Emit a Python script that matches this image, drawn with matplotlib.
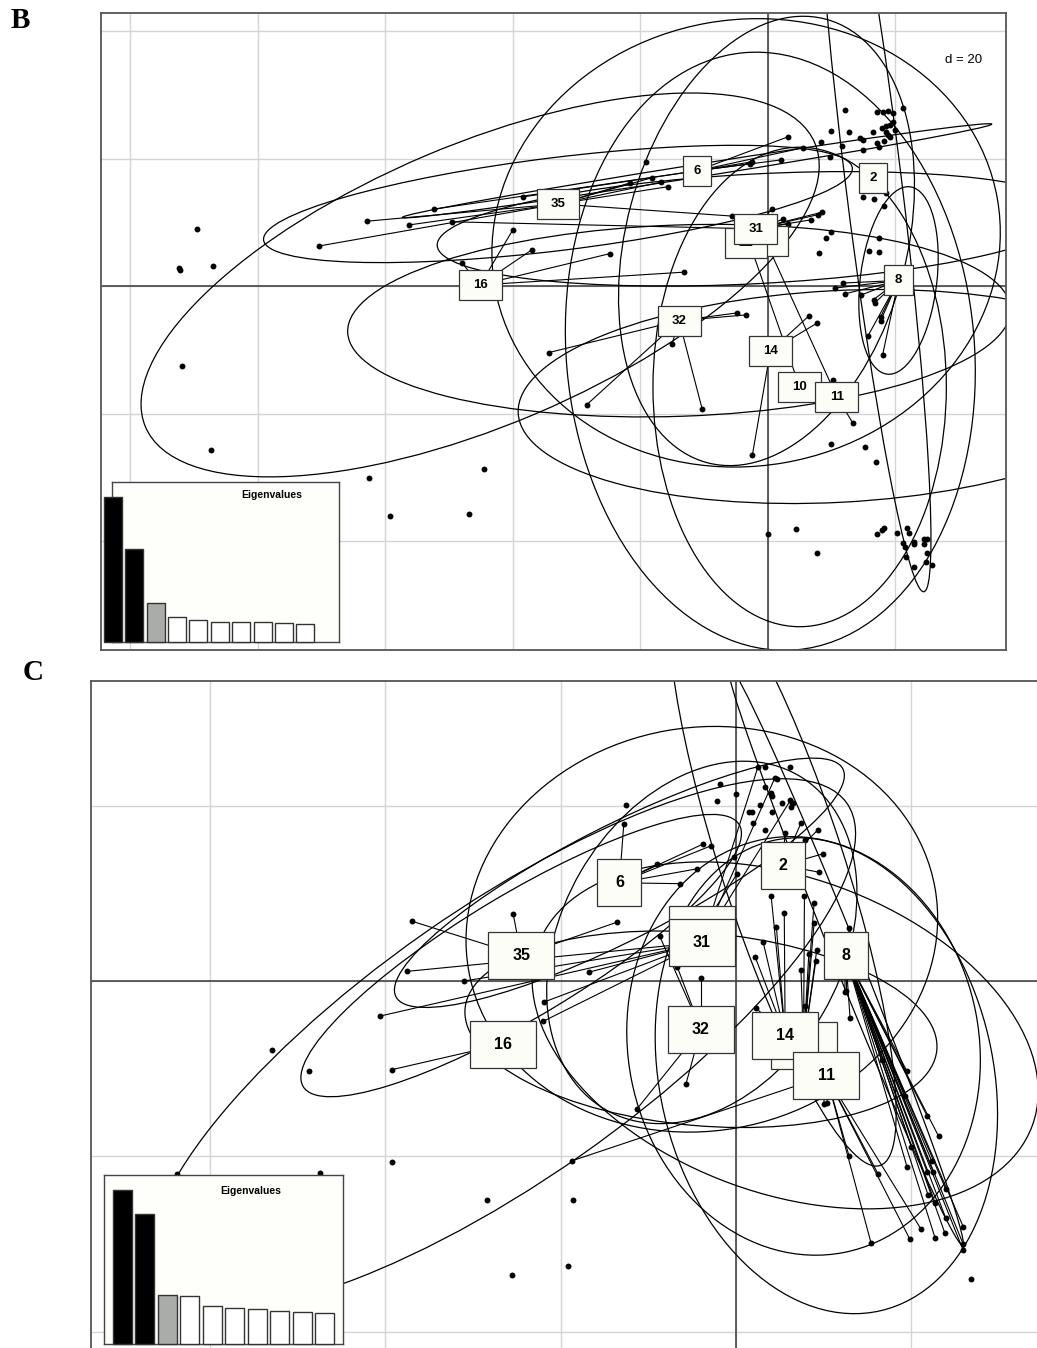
import matplotlib.pyplot as plt
from matplotlib.patches import Ellipse, Rectangle

# ---------------- panel B data (units of the d = 20 grid) ----------------
b_labels = ["2", "6", "35", "16", "25", "22", "31", "8", "32", "14", "10", "11"]
b_cx = [16.5, -11.1, -32.9, -45.1, -0.2, -3.4, -1.9, 20.5, -13.9, 0.4, 5.0, 10.8]
b_cy = [17.0, 18.1, 12.9, 0.2, 7.1, 6.8, 9.0, 0.9, -5.4, -10.2, -15.8, -17.3]
# ellipse semi axes and angle for each class
b_ea = [65.4, 46.8, 46.5, 57.0, 36.0, 40.0, 50.0, 14.8, 52.0, 47.0, 37.6, 50.0]
b_eb = [4.4, 1.0, 7.3, 22.0, 22.0, 35.0, 8.6, 6.0, 15.0, 32.0, 23.0, 16.6]
b_ang = [97, 9, 7, 23, 75, 10, 3, 83, 2, 95, 90, 3]

b_px = [-89.5, -92.3, -92.1, -87.0, -70.4, -62.8, -56.3, -52.3, -49.5, -48.0,
        -40.0, -91.8, -87.3, -62.5, -59.2, -46.9, -44.5, 12.1, 17.2, 18.0,
        18.8, 19.6, 21.2, 19.6, 17.9, 18.6, 19.1, 19.9, 18.6, 18.8,
        19.1, 16.5, 9.9, 12.7, 14.4, 14.9, 17.2, 18.2, 17.4, 14.9,
        11.6, 8.3, 3.1, 5.5, 9.7, 2.0, -2.5, -2.8, -19.1, -21.6,
        -18.2, -16.8, -15.7, -38.4, 15.0, 16.6, 18.5, 18.2, 8.5, 7.8,
        6.7, 0.6, 2.4, 3.1, -5.6, 9.9, 9.1, 17.4, 8.1, 15.8,
        17.5, -24.8, -37.0, -13.2, 10.5, 11.8, 12.1, 14.6, 16.6, 16.8,
        17.7, 17.7, -4.9, -3.4, 6.4, 7.7, -34.3, -15.0, -28.4, -10.3,
        15.7, 18.0, 10.2, 13.3, 9.9, 15.2, 16.9, -2.4, 0.0, 4.4,
        7.7, 17.1, 17.9, 18.3, 20.2, 21.8, 22.1, 21.2, 21.5, 22.9,
        22.9, 24.5, 24.9, 24.5, 24.9, 21.6, 24.8, 22.9, 25.7, -2.5,
        0.3]
b_py = [9.0, 2.9, 2.6, 3.2, 6.3, 10.2, 9.6, 12.1, 10.1, 3.7,
        8.8, -12.5, -25.7, -30.0, -36.0, -35.8, -28.6, 27.6, 27.3, 27.3,
        27.5, 27.2, 27.9, 25.7, 24.8, 25.1, 25.3, 24.5, 24.2, 23.7,
        23.4, 24.2, 24.3, 24.2, 23.2, 22.9, 22.5, 22.8, 21.8, 21.4,
        22.0, 22.6, 23.4, 21.7, 20.3, 19.8, 19.5, 19.2, 19.5, 16.2,
        17.0, 16.3, 15.6, 14.0, 14.0, 13.7, 14.6, 12.6, 11.6, 11.2,
        10.4, 12.1, 10.5, 9.8, 11.0, 8.5, 7.6, 7.6, 5.2, 5.5,
        5.4, 5.1, 5.7, 2.2, -0.3, 0.5, -1.2, -1.4, -2.1, -2.6,
        -4.8, -5.4, -4.2, -4.5, -4.7, -5.8, -10.4, -9.0, -18.6, -19.2,
        -7.8, -10.8, -14.7, -21.4, -24.7, -25.2, -27.5, -26.4, -38.8, -38.0,
        -41.8, -38.8, -38.2, -37.9, -38.7, -37.9, -38.7, -40.2, -40.9, -40.1,
        -40.5, -39.6, -39.6, -40.5, -41.8, -42.4, -43.2, -44.0, -43.7, 5.7,
        5.7]
b_grp = ["", "", "", "", "35", "35", "35", "6", "31", "16",
         "16", "", "", "", "", "", "", "", "", "",
         "", "", "", "", "", "", "", "", "", "",
         "", "", "", "", "", "", "", "", "", "",
         "", "", "6", "6", "", "6", "6", "6", "", "35",
         "35", "35", "35", "6", "", "", "", "", "31", "31",
         "31", "31", "31", "31", "35", "", "", "", "", "",
         "", "16", "16", "16", "8", "8", "8", "8", "8", "8",
         "8", "8", "32", "32", "14", "14", "32", "32", "32", "32",
         "8", "8", "11", "11", "", "", "", "14", "", "",
         "", "", "", "", "", "", "", "", "", "",
         "", "", "", "", "", "", "", "", "", "10",
         "11"]
b_eig = [1.0, 0.639, 0.268, 0.172, 0.151, 0.141, 0.137, 0.137, 0.130, 0.126]

# ---------------- panel C data ----------------
c_labels = ["2", "6", "35", "16", "22", "31", "8", "32", "10", "14", "11"]
c_cx = [5.3, -13.3, -24.5, -26.6, -3.9, -3.9, 12.5, -4.0, 7.7, 5.6, 10.3]
c_cy = [13.2, 11.2, 2.9, -7.2, 5.9, 4.4, 2.9, -5.5, -7.4, -6.2, -10.8]
c_ea = [36.0, 28.6, 29.0, 47.9, 27.0, 22.0, 35.6, 27.0, 24.0, 30.0, 27.5]
c_eb = [7.0, 6.5, 7.0, 15.5, 23.0, 16.0, 1.5, 11.0, 20.0, 18.0, 19.0]
c_ang = [108, 27, 31, 35, 10, 60, 112, -5, 101, -20, 103]

c_px = [-36.9, -25.4, -37.5, -31.0, -52.9, -48.7, -40.6, -39.2, -39.2, -28.4,
        -25.5, -47.4, -63.8, -1.8, -12.5, -12.8, -2.2, 0.0, 2.5, 3.3,
        6.2, 4.4, 4.7, 3.3, 4.0, 4.1, 2.7, 1.5, 1.8, 1.9,
        4.1, 5.2, 6.2, 6.4, 6.5, 6.3, 7.4, 9.3, 3.3, 5.6,
        -3.8, -2.9, -0.2, 9.9, 7.9, -4.4, -9.0, -6.4, 0.1, 9.5,
        4.0, 5.5, 4.6, 7.8, 8.9, 8.9, 12.9, -13.6, 3.1, 2.2,
        8.3, 9.2, 9.1, 7.4, -16.8, -8.7, -6.7, -4.0, 12.4, -22.0,
        -21.9, 2.3, 7.9, 13.0, -5.7, -11.3, -18.7, -18.6, -19.2, 10.0,
        10.4, 16.6, 19.5, 19.3, 21.8, 23.1, 20.0, 12.9, 16.2, 19.5,
        22.3, 21.8, 22.5, 23.9, 21.9, 22.7, 23.9, 21.1, 23.8, 22.7,
        19.8, 15.4, 25.9, 25.9, 25.9, 26.8, 12.5]
c_py = [6.8, 7.6, 1.1, 0.0, -7.9, -10.3, -4.0, -10.1, -20.6, -25.0,
        -33.5, -21.9, -22.0, 22.5, 20.1, 17.9, 20.5, 21.3, 24.4, 24.4,
        24.4, 23.1, 23.0, 22.1, 21.4, 21.1, 20.1, 19.3, 19.3, 18.0,
        19.3, 20.3, 20.6, 20.3, 20.3, 19.8, 18.0, 17.2, 17.2, 16.9,
        15.6, 15.4, 14.1, 14.5, 16.1, 12.8, 13.3, 11.1, 12.2, 12.4,
        9.7, 7.8, 6.2, 9.7, 8.9, 6.6, 6.0, 6.7, 4.4, 2.7,
        3.1, 3.5, 2.3, 1.3, 1.0, 5.1, 1.6, 0.3, -1.3, -4.6,
        -2.4, -3.1, -2.9, -4.2, -11.7, -14.6, -20.5, -25.0, -32.5, -14.0,
        -13.9, -9.0, -10.3, -13.1, -15.4, -17.7, -18.9, -20.0, -22.0, -21.2,
        -20.5, -21.8, -21.8, -23.7, -24.4, -25.3, -27.0, -28.3, -28.7, -29.3,
        -29.4, -29.9, -28.0, -30.0, -30.7, -34.0, -1.1]
c_grp = ["35", "35", "31", "31", "", "", "31", "16", "", "",
         "", "", "", "", "", "6", "", "", "31", "",
         "", "31", "", "", "", "", "", "", "", "",
         "", "", "31", "", "", "", "2", "2", "", "2",
         "6", "6", "", "2", "2", "6", "6", "6", "22", "2",
         "14", "14", "14", "10", "10", "10", "8", "35", "14", "14",
         "10", "10", "10", "10", "31", "32", "32", "32", "8", "31",
         "31", "14", "10", "8", "32", "32", "11", "", "", "11",
         "11", "8", "8", "8", "8", "8", "8", "11", "11", "8",
         "8", "8", "8", "8", "8", "8", "8", "11", "8", "8",
         "11", "11", "8", "8", "8", "", "8"]
c_eig = [1.0, 0.844, 0.319, 0.313, 0.244, 0.235, 0.224, 0.215, 0.209, 0.198]

FONT = "Liberation Sans"


def draw_panel(ax, labels, cx, cy, ea, eb, ang, px, py, grp,
               xlim, ylim, box_w, box_h, fsize):
    ax.set_xlim(*xlim)
    ax.set_ylim(*ylim)
    ax.set_facecolor("white")
    for s in ax.spines.values():
        s.set_color("#555555")
        s.set_linewidth(1.3)
    ax.set_xticks([v for v in range(-100, 60, 20) if xlim[0] < v < xlim[1]])
    ax.set_yticks([v for v in range(-60, 60, 20) if ylim[0] < v < ylim[1]])
    ax.tick_params(length=0, labelbottom=False, labelleft=False)
    ax.grid(True, color="#d4d4d4", linewidth=1.0, zorder=0)
    ax.set_axisbelow(True)
    ax.axhline(0, color="#444444", linewidth=1.2, zorder=1)
    ax.axvline(0, color="#444444", linewidth=1.2, zorder=1)

    centre = {lab: (x, y) for lab, x, y in zip(labels, cx, cy)}

    # ellipses
    for x, y, a, b, t in zip(cx, cy, ea, eb, ang):
        ax.add_patch(Ellipse((x, y), 2 * a, 2 * b, angle=t, fill=False,
                             edgecolor="black", linewidth=0.9, zorder=2))

    # stars: each point joined to its class centre
    for x, y, g in zip(px, py, grp):
        if g:
            gx, gy = centre[g]
            ax.plot([x, gx], [y, gy], color="black", linewidth=0.8, zorder=2)

    ax.scatter(px, py, s=18, color="black", zorder=3, linewidths=0)

    # class labels in boxes
    for k, (lab, x, y) in enumerate(zip(labels, cx, cy)):
        w = box_w(len(lab))
        ax.add_patch(Rectangle((x - w / 2, y - box_h / 2), w, box_h,
                               facecolor="#fdfdf8", edgecolor="#333333",
                               linewidth=0.9, zorder=4 + 2 * k))
        ax.text(x, y, lab, ha="center", va="center", fontsize=fsize,
                fontweight="bold", family=FONT, zorder=5 + 2 * k)


def draw_eigen(fig, rect, eig, xlim, ylim, title_xy):
    ins = fig.add_axes(rect)
    ins.set_facecolor("#fefefa")
    colors = ["black", "black", "#a9aca9"] + ["white"] * (len(eig) - 3)
    ins.bar(range(len(eig)), eig, width=0.84, color=colors,
            edgecolor="#333333", linewidth=1.0, clip_on=False, zorder=3)
    ins.set_xlim(*xlim)
    ins.set_ylim(*ylim)
    ins.set_xticks([])
    ins.set_yticks([])
    for s in ins.spines.values():
        s.set_color("#444444")
        s.set_linewidth(1.0)
    ins.text(title_xy[0], title_xy[1], "Eigenvalues", transform=ins.transAxes,
             ha="center", va="center", fontsize=7.5, fontweight="bold",
             family=FONT)


fig = plt.figure(figsize=(10.37, 13.48), dpi=100)
W, H = 1037.0, 1348.0

# panel B
axb = fig.add_axes([101.3 / W, 1 - 650.3 / H, 905 / W, 637 / H])
draw_panel(axb, b_labels, b_cx, b_cy, b_ea, b_eb, b_ang, b_px, b_py, b_grp,
           (-104.5, 37.4), (-57.1, 42.8),
           lambda n: (14 + 14.4 * n) / 6.38, 30 / 6.38, 9.5)
draw_eigen(fig, [112 / W, 1 - 642.3 / H, 227.3 / W, 160 / H], b_eig,
           (-0.047, 10.594), (0, 1.099), (0.703, 0.922))
fig.text(964 / W, 1 - 60 / H, "d = 20", ha="center", va="center",
         fontsize=9.5, family=FONT)

# panel C
axc = fig.add_axes([91 / W, 1 - 1356 / H, 954 / W, 675 / H])
draw_panel(axc, c_labels, c_cx, c_cy, c_ea, c_eb, c_ang, c_px, c_py, c_grp,
           (-73.55, 35.23), (-42.76, 34.21),
           lambda n: (22 + 22 * n) / 8.77, 47 / 8.77, 11.5)
draw_eigen(fig, [103.7 / W, 1 - 1343.7 / H, 239.6 / W, 169 / H], c_eig,
           (-0.822, 9.827), (0, 1.1017), (0.614, 0.905))

fig.text(20 / W, 1 - 21 / H, "B", ha="center", va="center", fontsize=21,
         fontweight="bold", family="Liberation Serif")
fig.text(33 / W, 1 - 673 / H, "C", ha="center", va="center", fontsize=21,
         fontweight="bold", family="Liberation Serif")

fig.savefig("out.png", dpi=100)
